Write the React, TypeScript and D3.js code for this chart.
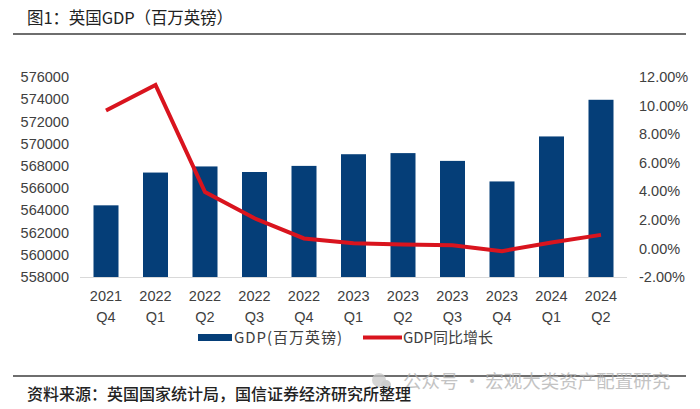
import React from "react";
import * as d3 from "d3";

const years = ["2021", "2022", "2022", "2022", "2022", "2023", "2023", "2023", "2023", "2024", "2024"];
const quarters = ["Q4", "Q1", "Q2", "Q3", "Q4", "Q1", "Q2", "Q3", "Q4", "Q1", "Q2"];
const gdp = [564450, 567400, 567950, 567450, 568000, 569050, 569150, 568450, 566600, 570650, 573950];
const yoy = [9.65, 11.44, 3.94, 2.11, 0.7, 0.37, 0.28, 0.23, -0.19, 0.42, 0.95];
const leftTicks = [558000, 560000, 562000, 564000, 566000, 568000, 570000, 572000, 574000, 576000];
const rightTicks = [-2, 0, 2, 4, 6, 8, 10, 12];

const title = "图1：英国GDP（百万英镑）";
const source = "资料来源：英国国家统计局，国信证券经济研究所整理";
const watermark = "公众号 · 宏观大类资产配置研究";
const legendBar = "GDP(百万英镑)";
const legendLine = "GDP同比增长";

const BLUE = "#053e78";
const RED = "#d9141e";
const CJK = "'Noto Sans CJK SC', 'Noto Sans', sans-serif";
const NUM = "'Liberation Sans', Arial, sans-serif";

export default function App() {
  const W = 700, H = 409;
  const plotTop = 77, plotBottom = 277;
  const idx = years.map((_, i) => i);
  const x = d3.scalePoint<number>().domain(idx).range([81.25, 625.75]).padding(0.5);
  const yL = d3.scaleLinear().domain([558000, 576000]).range([plotBottom, plotTop]);
  const yR = d3.scaleLinear().domain([-2, 12]).range([plotBottom, plotTop]);
  const barW = 25;
  const line = d3.line<number>().x((_, i) => x(i) as number).y((d) => yR(d));
  const fmtR = (v: number) => v.toFixed(2) + "%";

  return (
    <svg width={W} height={H} style={{ position: "absolute", left: 0, top: 0, background: "#fff" }}>
      {/* header */}
      <text x={27} y={24} fontFamily={CJK} fontSize={16.5} fontWeight={400} fill="#222" textLength={206} lengthAdjust="spacing">{title}</text>
      <line x1={13} x2={686} y1={34} y2={34} stroke="#6e6e6e" strokeWidth={2} />

      {/* left axis labels */}
      {leftTicks.map((t) => (
        <text key={"l" + t} x={69} y={yL(t)} dy="0.35em" textAnchor="end" fontFamily={NUM} fontSize={14.5} fill="#404040">{t}</text>
      ))}
      {/* right axis labels */}
      {rightTicks.map((t) => (
        <text key={"r" + t} x={639} y={yR(t)} dy="0.35em" textAnchor="start" fontFamily={NUM} fontSize={14.5} fill="#404040">{fmtR(t)}</text>
      ))}

      {/* bars */}
      {gdp.map((v, i) => (
        <rect key={"b" + i} x={(x(i) as number) - barW / 2} width={barW} y={yL(v)} height={plotBottom - yL(v)} fill={BLUE} />
      ))}

      {/* baseline */}
      <line x1={80} x2={627} y1={plotBottom + 0.5} y2={plotBottom + 0.5} stroke="#d9d9d9" strokeWidth={1} />

      {/* yoy line */}
      <path d={line(yoy) || ""} fill="none" stroke={RED} strokeWidth={4} strokeLinejoin="miter" />

      {/* x labels */}
      {idx.map((i) => (
        <g key={"x" + i}>
          <text x={x(i)} y={296} dy="0.35em" textAnchor="middle" fontFamily={NUM} fontSize={14.5} fill="#404040">{years[i]}</text>
          <text x={x(i)} y={317} dy="0.35em" textAnchor="middle" fontFamily={NUM} fontSize={14.5} fill="#404040">{quarters[i]}</text>
        </g>
      ))}

      {/* legend */}
      <rect x={198} y={334} width={34} height={7} fill={BLUE} />
      <text x={234} y={338} dy="0.35em" fontFamily={CJK} fontSize={15} fill="#404040" textLength={108} lengthAdjust="spacing">{legendBar}</text>
      <line x1={363} x2={402} y1={337.5} y2={337.5} stroke={RED} strokeWidth={4} />
      <text x={403} y={338} dy="0.35em" fontFamily={CJK} fontSize={15} fill="#404040" textLength={90} lengthAdjust="spacing">{legendLine}</text>

      {/* footer */}
      <line x1={13} x2={686} y1={376} y2={376} stroke="#6e6e6e" strokeWidth={2} />
      <g opacity={0.75}>
        <circle cx={379} cy={380} r={7} fill="#c8c8c8" />
        <circle cx={386} cy={385} r={5} fill="#bdbdbd" />
        <text x={403} y={382} dy="0.35em" fontFamily={CJK} fontSize={18.5} fill="#b0b0b0">{watermark}</text>
      </g>
      <text x={27} y={394} dy="0.35em" fontFamily={CJK} fontSize={16} fontWeight={500} fill="#222">{source}</text>
    </svg>
  );
}
